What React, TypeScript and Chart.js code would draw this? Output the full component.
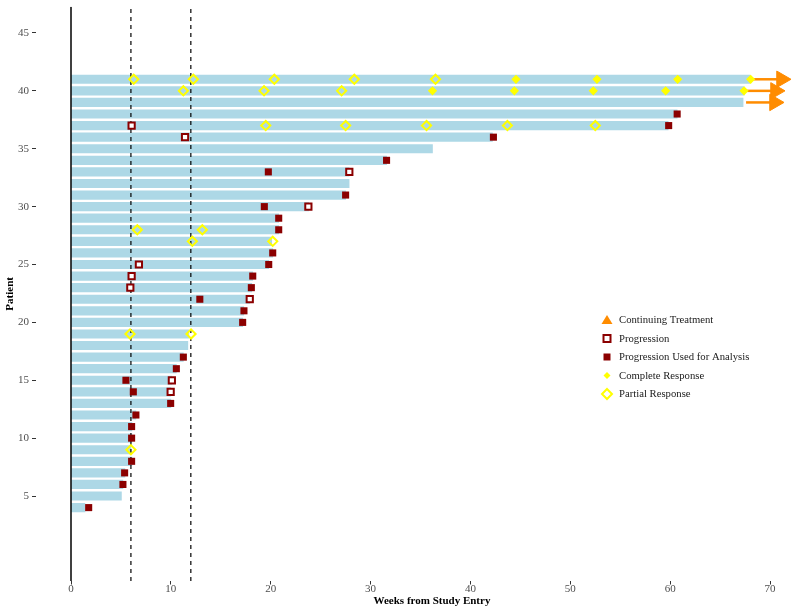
import React, { useEffect, useRef } from "react";
import { Chart, registerables } from "chart.js";

Chart.register(...registerables);

// ---- Data ----
const patients = [41, 40, 39, 38, 37, 36, 35, 34, 33, 32, 31, 30, 29, 28, 27, 26, 25, 24, 23, 22, 21, 20, 19, 18, 17, 16, 15, 14, 13, 12, 11, 10, 9, 8, 7, 6, 5, 4];
const durations = [68.0, 67.4, 67.3, 60.7, 59.8, 42.2, 36.2, 31.6, 27.85, 27.85, 27.5, 23.8, 20.8, 20.8, 20.1, 20.2, 19.8, 18.2, 18.1, 17.9, 17.3, 17.2, 11.8, 11.7, 11.25, 10.55, 10.1, 10.0, 10.0, 6.5, 6.1, 6.1, 6.0, 6.1, 5.4, 5.2, 5.05, 1.4];

const continuingPatients = [41, 40, 39];

const progressionPatients = [37, 36, 33, 30, 25, 24, 23, 22, 15, 14];
const progressionWeeks = [6.07, 11.42, 27.87, 23.77, 6.8, 6.07, 5.94, 17.9, 10.1, 9.98];

const analysisPatients = [38, 37, 36, 34, 33, 31, 30, 29, 28, 26, 25, 24, 23, 22, 21, 20, 17, 16, 15, 14, 13, 12, 11, 10, 8, 7, 6, 4];
const analysisWeeks = [60.7, 59.85, 42.3, 31.6, 19.76, 27.5, 19.36, 20.8, 20.8, 20.2, 19.8, 18.2, 18.06, 12.9, 17.32, 17.19, 11.25, 10.55, 5.5, 6.24, 9.98, 6.5, 6.07, 6.07, 6.07, 5.37, 5.2, 1.77];

const completePatients = [41, 41, 41, 41, 40, 40, 40, 40, 40];
const completeWeeks = [44.56, 52.67, 60.75, 68.06, 36.2, 44.4, 52.3, 59.55, 67.4];

const partialPatients = [41, 41, 41, 41, 41, 40, 40, 40, 37, 37, 37, 37, 37, 28, 28, 27, 27, 19, 19, 9];
const partialWeeks = [6.28, 12.25, 20.36, 28.37, 36.5, 11.25, 19.33, 27.1, 19.5, 27.5, 35.6, 43.7, 52.5, 6.64, 13.15, 12.15, 20.2, 5.91, 12.02, 6.0];

const referenceWeeks = [6, 12];
const xTickValues = [0, 10, 20, 30, 40, 50, 60, 70];
const yTickValues = [5, 10, 15, 20, 25, 30, 35, 40, 45];

const legendLabels = [
  "Continuing Treatment",
  "Progression",
  "Progression Used for Analysis",
  "Complete Response",
  "Partial Response",
];

// ---- Style / layout constants ----
const X_MIN = -3.555;
const X_MAX = 72.3;
const Y_MIN = -2.34;
const Y_MAX = 47.27;
const ARROW_START = 0.3;
const ARROW_HEAD = 3.15;

const FONT = "'Liberation Serif', 'Times New Roman', serif";
const BLUE = "#ADD8E6";
const DARKRED = "#8B0000";
const YELLOW = "#FFFF00";
const ORANGE = "#FF8C00";

const legendPlugin = {
  id: "customLegend",
  afterDraw(chart: any) {
    const ctx = chart.ctx;
    const x0 = 607;
    const y0 = 320;
    const dy = 18.5;
    ctx.save();
    legendLabels.forEach((label, i) => {
      const y = y0 + i * dy;
      ctx.beginPath();
      if (i === 0) {
        ctx.fillStyle = ORANGE;
        ctx.moveTo(x0, y - 5);
        ctx.lineTo(x0 + 5.5, y + 4);
        ctx.lineTo(x0 - 5.5, y + 4);
        ctx.closePath();
        ctx.fill();
      } else if (i === 1) {
        ctx.fillStyle = "#ffffff";
        ctx.strokeStyle = DARKRED;
        ctx.lineWidth = 2;
        ctx.rect(x0 - 3.5, y - 3.5, 7, 7);
        ctx.fill();
        ctx.stroke();
      } else if (i === 2) {
        ctx.fillStyle = DARKRED;
        ctx.rect(x0 - 3.5, y - 3.5, 7, 7);
        ctx.fill();
      } else if (i === 3) {
        ctx.fillStyle = YELLOW;
        ctx.moveTo(x0, y - 3.5);
        ctx.lineTo(x0 + 3.5, y);
        ctx.lineTo(x0, y + 3.5);
        ctx.lineTo(x0 - 3.5, y);
        ctx.closePath();
        ctx.fill();
      } else {
        ctx.strokeStyle = YELLOW;
        ctx.lineWidth = 2;
        ctx.moveTo(x0, y - 5);
        ctx.lineTo(x0 + 5, y);
        ctx.lineTo(x0, y + 5);
        ctx.lineTo(x0 - 5, y);
        ctx.closePath();
        ctx.stroke();
      }
      ctx.fillStyle = "#1a1a1a";
      ctx.font = `10.7px ${FONT}`;
      ctx.textAlign = "left";
      ctx.textBaseline = "middle";
      ctx.fillText(label, 619, y + 0.5);
    });
    // x-axis title
    ctx.fillStyle = "#000000";
    ctx.font = `bold 11px ${FONT}`;
    ctx.textAlign = "center";
    ctx.textBaseline = "middle";
    ctx.fillText("Weeks from Study Entry", 432, 601);
    ctx.restore();
  },
};

export default function App() {
  const canvasRef = useRef<HTMLCanvasElement | null>(null);

  useEffect(() => {
    if (!canvasRef.current) return;

    const datasets: any[] = [];

    // markers (on top)
    datasets.push({
      type: "scatter",
      label: "Complete Response",
      data: completePatients.map((p, i) => ({ x: completeWeeks[i], y: p })),
      pointStyle: "rectRot",
      pointRadius: 4.6,
      backgroundColor: YELLOW,
      borderWidth: 0,
      order: 0,
      clip: false,
    });
    datasets.push({
      type: "scatter",
      label: "Partial Response",
      data: partialPatients.map((p, i) => ({ x: partialWeeks[i], y: p })),
      pointStyle: "rectRot",
      pointRadius: 4.6,
      backgroundColor: "rgba(0,0,0,0)",
      borderColor: YELLOW,
      borderWidth: 2,
      order: 0,
      clip: false,
    });
    datasets.push({
      type: "scatter",
      label: "Progression Used for Analysis",
      data: analysisPatients.map((p, i) => ({ x: analysisWeeks[i], y: p })),
      pointStyle: "rect",
      pointRadius: 5,
      backgroundColor: DARKRED,
      borderWidth: 0,
      order: 0,
      clip: false,
    });
    datasets.push({
      type: "scatter",
      label: "Progression",
      data: progressionPatients.map((p, i) => ({ x: progressionWeeks[i], y: p })),
      pointStyle: "rect",
      pointRadius: 4.4,
      backgroundColor: "#ffffff",
      borderColor: DARKRED,
      borderWidth: 2,
      order: 0,
      clip: false,
    });

    // continuing treatment arrows
    continuingPatients.forEach((p) => {
      const end = durations[patients.indexOf(p)];
      datasets.push({
        type: "line",
        label: "Continuing Treatment",
        data: [
          { x: end + ARROW_START, y: p },
          { x: end + ARROW_HEAD, y: p },
        ],
        borderColor: ORANGE,
        backgroundColor: ORANGE,
        borderWidth: 2.5,
        pointStyle: "triangle",
        pointRotation: 90,
        pointRadius: [0, 9.5],
        pointBorderWidth: 1,
        pointBorderColor: ORANGE,
        pointBackgroundColor: ORANGE,
        order: 1,
        clip: false,
      });
    });

    // reference lines
    referenceWeeks.forEach((w) => {
      datasets.push({
        type: "line",
        label: "ref",
        data: [
          { x: w, y: Y_MIN },
          { x: w, y: Y_MAX },
        ],
        borderColor: "#000000",
        borderWidth: 1.2,
        borderDash: [4, 4],
        pointRadius: 0,
        order: 2,
      });
    });
    datasets.push({
      type: "line",
      label: "zero",
      data: [
        { x: 0, y: Y_MIN },
        { x: 0, y: Y_MAX },
      ],
      borderColor: "#000000",
      borderWidth: 1.5,
      pointRadius: 0,
      order: 2,
    });

    // bars
    datasets.push({
      type: "bar",
      label: "Duration",
      indexAxis: "y",
      data: patients.map((p, i) => ({ x: [0, durations[i]], y: p })),
      backgroundColor: BLUE,
      borderWidth: 0,
      barThickness: 8.5,
      order: 10,
    });

    const chart = new Chart(canvasRef.current, {
      type: "scatter",
      data: { datasets },
      plugins: [legendPlugin],
      options: {
        animation: false,
        responsive: false,
        events: [],
        layout: { autoPadding: false, padding: { top: 6.7, right: 7, bottom: 0, left: 0 } },
        plugins: {
          legend: { display: false },
          tooltip: { enabled: false },
        },
        scales: {
          x: {
            type: "linear",
            position: "bottom",
            min: X_MIN,
            max: X_MAX,
            offset: false,
            afterBuildTicks: (s: any) => {
              s.ticks = xTickValues.map((v) => ({ value: v }));
            },
            afterFit: (s: any) => {
              s.height = 33;
              s.paddingLeft = 0;
              s.paddingRight = 0;
            },
            ticks: {
              color: "#4d4d4d",
              font: { family: FONT, size: 11 },
              padding: -1.5,
              maxRotation: 0,
              autoSkip: false,
            },
            grid: {
              display: true,
              offset: false,
              drawOnChartArea: false,
              drawTicks: true,
              tickLength: 3.5,
              tickColor: "#333333",
              tickWidth: 1,
            },
            border: { display: false },
          },
          y: {
            type: "linear",
            position: "left",
            min: Y_MIN,
            max: Y_MAX,
            offset: false,
            afterBuildTicks: (s: any) => {
              s.ticks = yTickValues.map((v) => ({ value: v }));
            },
            afterFit: (s: any) => {
              s.width = 35.5;
              s.paddingTop = 0;
              s.paddingBottom = 0;
            },
            ticks: {
              color: "#4d4d4d",
              font: { family: FONT, size: 11 },
              padding: 3,
              autoSkip: false,
            },
            grid: {
              display: true,
              offset: false,
              drawOnChartArea: false,
              drawTicks: true,
              tickLength: 3.5,
              tickColor: "#333333",
              tickWidth: 1,
            },
            border: { display: false },
            title: {
              display: true,
              text: "Patient",
              color: "#000000",
              font: { family: FONT, size: 11, weight: "bold" },
              padding: { top: 3.4, bottom: 0 },
            },
          },
        },
      } as any,
    });

    return () => {
      chart.destroy();
    };
  }, []);

  return (
    <div style={{ position: "absolute", left: 0, top: 0, width: 800, height: 614, background: "#ffffff" }}>
      <canvas ref={canvasRef} width={800} height={614} style={{ display: "block" }} />
    </div>
  );
}
